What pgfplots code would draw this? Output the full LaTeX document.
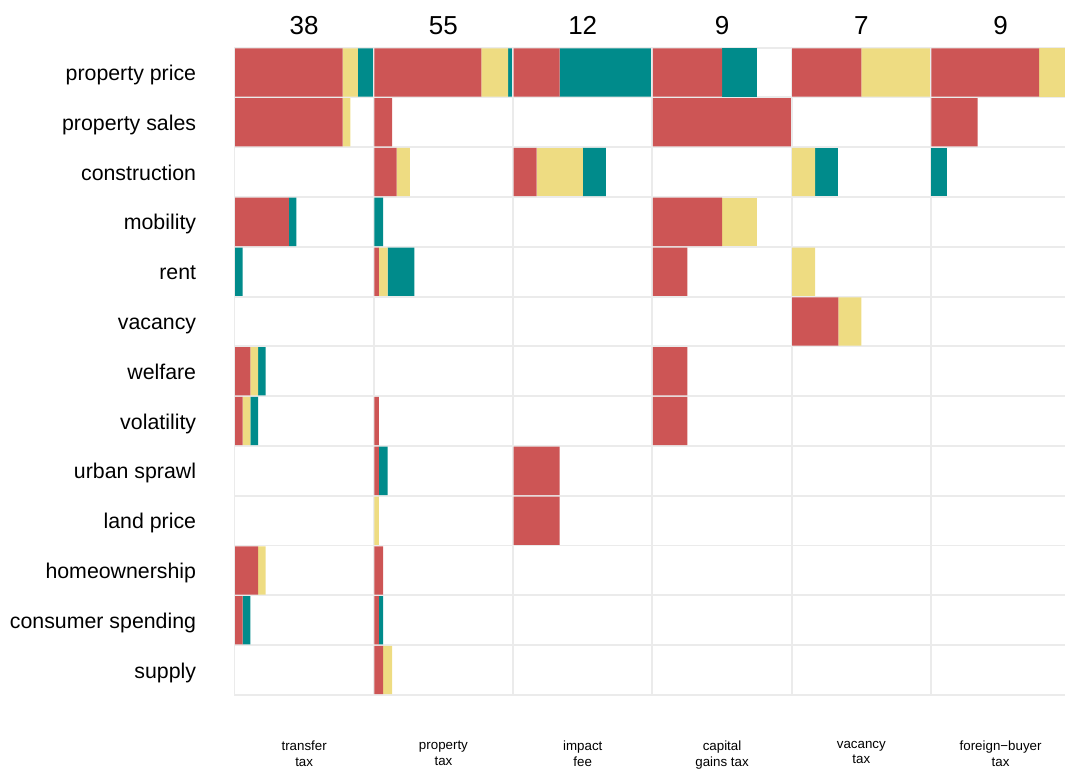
\documentclass[border=0pt]{standalone}
\usepackage{fontspec}
\setmainfont{Liberation Sans}
\usepackage{pgfplots}
\usepackage{pgfplotstable}
\pgfplotsset{compat=1.18}
\usepgfplotslibrary{groupplots}
\definecolor{cred}{HTML}{CD5555}
\definecolor{cyel}{HTML}{EEDC82}
\definecolor{cteal}{HTML}{008B8B}
\definecolor{gridg}{HTML}{EBEBEB}

% rows: 0 property price, 1 property sales, 2 construction, 3 mobility, 4 rent,
% 5 vacancy, 6 welfare, 7 volatility, 8 urban sprawl, 9 land price,
% 10 homeownership, 11 consumer spending, 12 supply
\pgfplotstableread{
row r yl t
0 14 2 2
1 14 1 0
2 0 0 0
3 7 0 1
4 0 0 1
5 0 0 0
6 2 1 1
7 1 1 1
8 0 0 0
9 0 0 0
10 3 1 0
11 1 0 1
12 0 0 0
}\transfer
\pgfplotstableread{
row r yl t
0 24 6 1
1 4 0 0
2 5 3 0
3 0 0 2
4 1 2 6
5 0 0 0
6 0 0 0
7 1 0 0
8 1 0 2
9 0 1 0
10 2 0 0
11 1 0 1
12 2 2 0
}\property
\pgfplotstableread{
row r yl t
0 2 0 4
1 0 0 0
2 1 2 1
3 0 0 0
4 0 0 0
5 0 0 0
6 0 0 0
7 0 0 0
8 2 0 0
9 2 0 0
10 0 0 0
11 0 0 0
12 0 0 0
}\impact
\pgfplotstableread{
row r yl t
0 2 0 1
1 4 0 0
2 0 0 0
3 2 1 0
4 1 0 0
5 0 0 0
6 1 0 0
7 1 0 0
8 0 0 0
9 0 0 0
10 0 0 0
11 0 0 0
12 0 0 0
}\capgains
\pgfplotstableread{
row r yl t
0 3 3 0
1 0 0 0
2 0 1 1
3 0 0 0
4 0 1 0
5 2 1 0
6 0 0 0
7 0 0 0
8 0 0 0
9 0 0 0
10 0 0 0
11 0 0 0
12 0 0 0
}\vacancy
\pgfplotstableread{
row r yl t
0 7 2 0
1 3 0 0
2 0 0 1
3 0 0 0
4 0 0 0
5 0 0 0
6 0 0 0
7 0 0 0
8 0 0 0
9 0 0 0
10 0 0 0
11 0 0 0
12 0 0 0
}\foreign

\begin{document}
\begin{tikzpicture}
\begin{groupplot}[
  group style={group size=6 by 1, horizontal sep=0pt, group name=G, yticklabels at=edge left},
  width=104.475pt, height=485.55pt, scale only axis,
  ymin=-0.5, ymax=12.5, y dir=reverse,
  ytick={0,...,12},
  yticklabels={property price, property sales, construction, mobility, rent, vacancy, welfare, volatility, urban sprawl, land price, homeownership, consumer spending, supply},
  xtick=\empty,
  minor ytick={-0.5,0.5,...,12.5},
  yminorgrids,
  minor grid style={draw=gridg, line width=1.4pt},
  major tick length=0pt, minor tick length=0pt,
  axis line style={draw=gridg, line width=1.4pt},
  xbar stacked, /pgf/bar width=0.97,
  every axis plot/.append style={draw=none},
  yticklabel style={font=\fontsize{16}{19}\selectfont, anchor=base east, inner sep=0pt, xshift=-28.6pt, yshift=-6pt},
  every axis title shift=0pt,
  title style={font=\fontsize{19.5}{23}\selectfont, at={(0.5,1)}, anchor=base, yshift=10pt, inner sep=0pt},
  xlabel style={font=\fontsize{10}{11.6}\selectfont, at={(0.5,0)}, anchor=north, yshift=-34.3pt, inner sep=0pt, align=center},
]
\nextgroupplot[title={38}, xlabel={transfer\\tax}, xmin=-0.065, xmax=18.065]
\addplot[fill=cred] table[x=r, y=row]{\transfer};
\addplot[fill=cyel] table[x=yl, y=row]{\transfer};
\addplot[fill=cteal] table[x=t, y=row]{\transfer};
\nextgroupplot[title={55}, xlabel={property\\tax}, xmin=-0.11, xmax=31.11]
\addplot[fill=cred] table[x=r, y=row]{\property};
\addplot[fill=cyel] table[x=yl, y=row]{\property};
\addplot[fill=cteal] table[x=t, y=row]{\property};
\nextgroupplot[title={12}, xlabel={impact\\fee}, xmin=-0.022, xmax=6.022]
\addplot[fill=cred] table[x=r, y=row]{\impact};
\addplot[fill=cyel] table[x=yl, y=row]{\impact};
\addplot[fill=cteal] table[x=t, y=row]{\impact};
\nextgroupplot[title={9}, xlabel={capital\\gains tax}, xmin=-0.0145, xmax=4.0145]
\addplot[fill=cred] table[x=r, y=row]{\capgains};
\addplot[fill=cyel] table[x=yl, y=row]{\capgains};
\addplot[fill=cteal] table[x=t, y=row]{\capgains};
\nextgroupplot[title={7}, xlabel={vacancy\\tax}, xmin=-0.022, xmax=6.022]
\addplot[fill=cred] table[x=r, y=row]{\vacancy};
\addplot[fill=cyel] table[x=yl, y=row]{\vacancy};
\addplot[fill=cteal] table[x=t, y=row]{\vacancy};
\nextgroupplot[title={9}, xlabel={foreign−buyer\\tax}, xmin=-0.032, xmax=9.032]
\addplot[fill=cred] table[x=r, y=row]{\foreign};
\addplot[fill=cyel] table[x=yl, y=row]{\foreign};
\addplot[fill=cteal] table[x=t, y=row]{\foreign};
\end{groupplot}
\pgfresetboundingbox
\path[use as bounding box] ([xshift=-175.9pt, yshift=35.7pt]G c1r1.north west) rectangle ([xshift=622.9pt, yshift=-541.8pt]G c1r1.north west);
\end{tikzpicture}
\end{document}
